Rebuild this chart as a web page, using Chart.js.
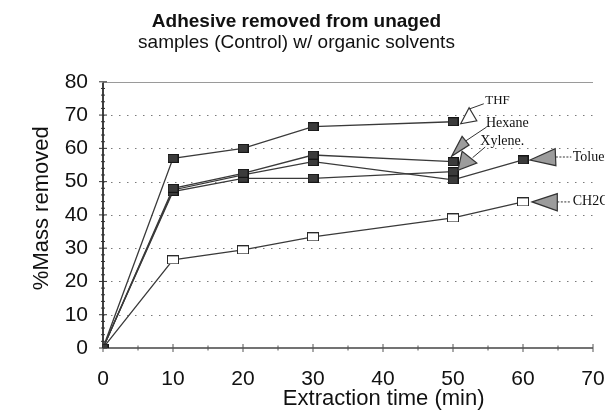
<!DOCTYPE html>
<html><head><meta charset="utf-8">
<script src="https://cdn.jsdelivr.net/npm/chart.js@4.4.0/dist/chart.umd.min.js"></script>
<style>html,body{margin:0;padding:0;background:#fff}#wrap{width:605px;height:415px;position:relative}</style>
</head><body><div id="wrap"><canvas id="c"></canvas></div>
<script>
// ---- data ----
const times   = [0, 10, 20, 30, 50, 60];
const thf     = [0, 57, 60, 66.5, 68];
const hexane  = [0, 48, 52.5, 58, 56];
const xylene  = [0, 47, 51, 51, 53];
const toluene = [0, 47.5, 52, 56, 50.5, 56.5];
const ch2cl2  = [0, 26.5, 29.5, 33.4, 39.1, 43.9];
const xTicks  = [0, 10, 20, 30, 40, 50, 60, 70];
const yTicks  = [0, 10, 20, 30, 40, 50, 60, 70, 80];
const titleText    = 'Adhesive removed from unaged';
const subtitleText = 'samples (Control) w/ organic solvents';
const xTitle = 'Extraction time (min)';
const yTitle = '%Mass removed';

// annotation callouts (data units): triangle vertices, connector, label anchor
const callouts = [
  {label:'THF',     open:true,  tri:[[51.1,67.4],[52.3,72.2],[53.4,68.3]], line:[[52.3,71.8],[54.4,73.4]], text:[54.6,74.3], size:13},
  {label:'Hexane',  open:false, tri:[[49.8,57.6],[51.3,63.6],[52.3,61.0]], line:[[51.8,62.2],[54.8,66.4]], text:[54.7,67.6], size:14},
  {label:'Xylene.', open:false, tri:[[50.7,53.4],[51.3,59.1],[53.4,55.6]], line:[[52.8,57.2],[54.6,60.4]], text:[53.9,62.0], size:14},
  {label:'Toluene', open:false, tri:[[61.0,56.5],[64.6,59.9],[64.7,54.8]], line:[[64.7,57.4],[66.9,57.4]], text:[67.1,57.4], size:14},
  {label:'CH2Cl2',  open:false, tri:[[61.3,43.9],[64.9,46.4],[64.9,41.2]], line:[[64.9,43.9],[66.9,43.9]], text:[67.1,44.1], size:14}
];

function pts(vals){ return vals.map((v,i)=>({x:times[i], y:v})); }
function makeRect(w,h,fill,stroke){
  const c=document.createElement('canvas'); c.width=w; c.height=h;
  const g=c.getContext('2d'); g.fillStyle=fill; g.fillRect(0,0,w,h);
  g.strokeStyle=stroke; g.lineWidth=1; g.strokeRect(0.5,0.5,w-1,h-1); return c;
}
const filledPt = makeRect(11,9,'#3b3b3b','#151515');
const openPt   = makeRect(12,9,'#ffffff','#2a2a2a');

function ds(label, vals, img){
  return {label, data:pts(vals), borderColor:'#3a3a3a', borderWidth:1.3, tension:0,
    pointStyle:img, pointRadius:5, pointHoverRadius:5, fill:false};
}

const SANS = '"Liberation Sans", Arial, Helvetica, sans-serif';
const SERIF = '"Liberation Serif", "Times New Roman", serif';

const decor = {
  id:'decor',
  beforeDatasetsDraw(chart){
    const {ctx, chartArea:a, scales:{x,y}} = chart;
    const L=(x1,y1,x2,y2)=>{ctx.beginPath();ctx.moveTo(x1,y1);ctx.lineTo(x2,y2);ctx.stroke();};
    ctx.save();
    ctx.lineWidth=1; ctx.strokeStyle='#7a7a7a'; ctx.setLineDash([1.5,6.5]);
    yTicks.forEach(v=>{ if(v===yTicks[0]||v===yTicks[yTicks.length-1]) return;
      const py=Math.round(y.getPixelForValue(v))+0.5; L(a.left,py,a.right,py); });
    ctx.setLineDash([]);
    const pt=Math.round(y.getPixelForValue(80))+0.5;
    ctx.strokeStyle='#9a9a9a'; L(a.left,pt,a.right,pt);
    const pb=y.getPixelForValue(0);
    ctx.strokeStyle='#444'; ctx.lineWidth=1.3; L(a.left,pb,a.right,pb);
    // x ticks
    ctx.lineWidth=1; ctx.strokeStyle='#555';
    for(let v=0; v<=70; v+=5){ const px=x.getPixelForValue(v); const h=(v%10===0)?4:2.5; L(px,pb-h,px,pb+h); }
    // y axis
    const pl=x.getPixelForValue(0);
    ctx.strokeStyle='#111'; ctx.lineWidth=1.6; L(pl,pt,pl,pb);
    ctx.lineWidth=1; ctx.strokeStyle='#333';
    for(let v=0; v<=80; v+=2){ const py=y.getPixelForValue(v); const w=(v%10===0)?4:2; L(pl-w,py,pl+w,py); }
    ctx.restore();
  },
  afterDraw(chart){
    const {ctx, chartArea:a, scales:{x,y}} = chart;
    const P=(p)=>[x.getPixelForValue(p[0]), y.getPixelForValue(p[1])];
    ctx.save();
    callouts.forEach(c=>{
      const l0=P(c.line[0]), l1=P(c.line[1]);
      ctx.strokeStyle='#333'; ctx.lineWidth=1;
      if(c.label==='Toluene'||c.label==='CH2Cl2') ctx.setLineDash([2,1.5]); else ctx.setLineDash([]);
      ctx.beginPath(); ctx.moveTo(l0[0],l0[1]); ctx.lineTo(l1[0],l1[1]); ctx.stroke();
      ctx.setLineDash([]);
      ctx.beginPath();
      c.tri.forEach((p,i)=>{const q=P(p); if(i===0) ctx.moveTo(q[0],q[1]); else ctx.lineTo(q[0],q[1]);});
      ctx.closePath();
      ctx.fillStyle=c.open?'#ffffff':'#9c9c9c'; ctx.fill();
      ctx.strokeStyle='#333'; ctx.lineWidth=1.2; ctx.stroke();
      const t=P(c.text);
      ctx.fillStyle='#111'; ctx.font=c.size+'px '+SERIF; ctx.textAlign='left'; ctx.textBaseline='middle';
      ctx.fillText(c.label,t[0],t[1]);
    });
    // axis titles
    ctx.fillStyle='#111'; ctx.font='22px '+SANS; ctx.textAlign='center'; ctx.textBaseline='middle';
    ctx.fillText(xTitle, x.getPixelForValue(40.1), 399);
    ctx.save(); ctx.translate(42, y.getPixelForValue(42)); ctx.rotate(-Math.PI/2);
    ctx.fillText(yTitle,0,0); ctx.restore();
    ctx.restore();
  }
};

new Chart(document.getElementById('c'), {
  type:'line',
  data:{ datasets:[
    ds('THF', thf, filledPt),
    ds('Hexane', hexane, filledPt),
    ds('Xylene', xylene, filledPt),
    ds('Toluene', toluene, filledPt),
    ds('CH2Cl2', ch2cl2, openPt)
  ]},
  options:{
    responsive:true, maintainAspectRatio:false, animation:false,
    layout:{padding:{left:0,right:12,top:0,bottom:0}},
    plugins:{
      legend:{display:false}, tooltip:{enabled:false},
      title:{display:true, text:titleText, color:'#111', font:{family:SANS, size:19, weight:'bold', lineHeight:1.0}, padding:{top:12,bottom:0}},
      subtitle:{display:true, text:subtitleText, color:'#111', font:{family:SANS, size:19, lineHeight:1.2}, padding:{top:0,bottom:28}}
    },
    scales:{
      x:{type:'linear', min:0, max:70,
        afterBuildTicks:s=>{ s.ticks = xTicks.map(v=>({value:v})); },
        afterFit:s=>{ s.height=67; s.paddingLeft=0; s.paddingRight=0; },
        grid:{display:false, drawTicks:false, tickLength:0}, border:{display:false},
        ticks:{autoSkip:false, maxRotation:0, padding:19, color:'#111', font:{family:SANS,size:21}}},
      y:{type:'linear', min:0, max:80,
        afterBuildTicks:s=>{ s.ticks = yTicks.map(v=>({value:v})); },
        afterFit:s=>{ s.width=103; s.paddingTop=0; s.paddingBottom=0; },
        grid:{display:false, drawTicks:false, tickLength:0}, border:{display:false},
        ticks:{padding:15, color:'#111', font:{family:SANS,size:21}}}
    }
  },
  plugins:[decor]
});
</script></body></html>
